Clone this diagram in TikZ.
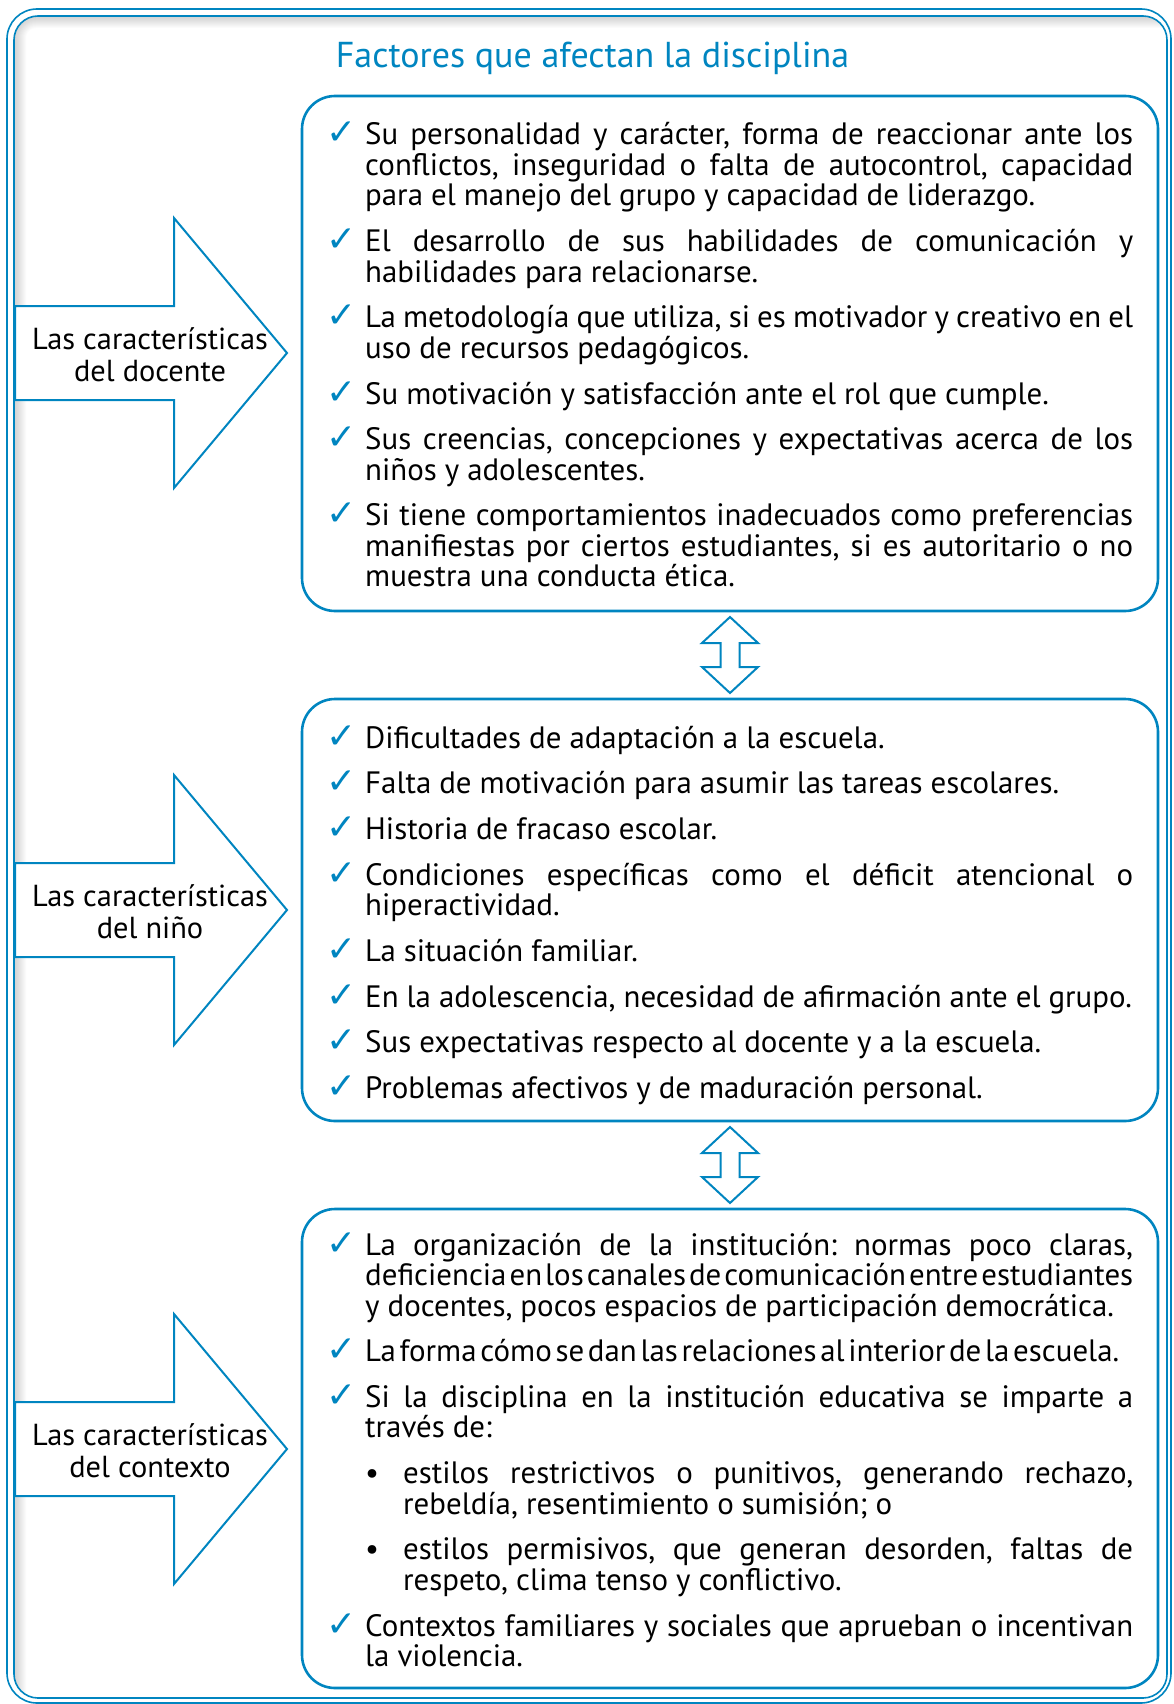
\documentclass[tikz,border=0pt]{standalone}
\usepackage{fontspec}
\setmainfont{PT Sans}
\newfontfamily\symbolfont{DejaVu Sans}
\usetikzlibrary{calc}

\definecolor{frameblue}{RGB}{0,133,192}

\newcommand{\bodyfont}{\fontsize{30.9}{30.5}\selectfont\frenchspacing\spaceskip = 0.26em plus 0.6em minus 0.12em}
\newcommand{\labelfont}{\fontsize{30.4}{32.3}\selectfont}
\newcommand{\titlefont}{\fontsize{36}{40}\selectfont}

% one item with a tick, one item with a dot, and the space between items
\newcommand{\chk}{\leavevmode\hangindent = 39pt\hangafter = 0\llap{\makebox[39pt][l]{\textcolor{frameblue}{\symbolfont\fontsize{36}{36}\selectfont ✓}}}}
\newcommand{\bul}{\leavevmode\hangindent = 77pt\hangafter = 0\llap{\makebox[38pt][l]{\textbullet}}}
\newcommand{\gap}{\par\vskip 15.2pt}
\newcommand{\tight}[1]{{\spaceskip = 0.08em plus 0.3em minus 0.05em #1}}
\newcommand{\squeeze}[2]{\makebox[#1][s]{\spaceskip = 0.12em plus 1em #2}}

\begin{document}
\begin{tikzpicture}[x = 1pt, y = -1pt,
	panel/.style = {draw = frameblue, line width = 2.6pt, rounded corners = 33pt, minimum width = 856pt},
	itemtext/.style = {anchor = base west, inner sep = 0pt, text width = 807pt, align = justify, font = \bodyfont},
	blockarrow/.style = {draw = frameblue, line width = 2pt, line join = miter, fill = white},
	arrowtext/.style = {align = center, inner sep = 0pt, font = \labelfont}]

	\useasboundingbox (0, 0) rectangle (1173, 1704);

	% Outer frame with its shadow

	\begin{scope}
		\clip [rounded corners = 24pt] (14, 16) rectangle (1167, 1698);
		\foreach \k in {1, ..., 14}
			\draw [black, opacity = 0.014, line width = 2 * \k pt, rounded corners = 24pt] (12, 14) rectangle (1200, 1730);
	\end{scope}
	\draw [frameblue, line width = 1.6pt, rounded corners = 30pt] (7, 9) rectangle (1171, 1703);
	\draw [frameblue, line width = 1.6pt, rounded corners = 24pt] (14, 16) rectangle (1167, 1698);

	% Title

	\node [anchor = base, text = frameblue, font = \titlefont] (title) at (592.5, 68) {Factores que afectan la disciplina};

	% Boxes

	\node [panel, minimum height = 515pt] (docente) at (730, 353.5) {};
	\node [panel, minimum height = 422pt] (nino) at (730, 910) {};
	\node [panel, minimum height = 479pt] (contexto) at (730, 1448.5) {};

	% Block arrows on the left

	\foreach \name/\yc/\who in {docente/353/del docente, nino/910/del niño, contexto/1449/del contexto}
	{
		\draw [blockarrow] (15, \yc - 47) -- (174, \yc - 47) -- (174, \yc - 135) -- (287, \yc)
			-- (174, \yc + 135) -- (174, \yc + 47) -- (15, \yc + 47) -- cycle;
		\node [arrowtext] (\name label) at (150, \yc + 2) {Las características\\\who};
	}

	% Double arrows between the boxes

	\foreach \upper/\lower in {docente/nino, nino/contexto}
		\draw [blockarrow, shift = {($(\upper.south)!0.5!(\lower.north)$)}] (0, -38) -- (28, -12) -- (9.5, -12)
			-- (9.5, 12) -- (28, 12) -- (0, 38) -- (-28, 12) -- (-9.5, 12) -- (-9.5, -12) -- (-28, -12) -- cycle;

	% Texts

	\node [itemtext] (docente list) at (326, 145) {%
		\chk Su personalidad y carácter, forma de reaccionar ante los\linebreak conflictos, inseguridad o falta de autocontrol, capacidad\linebreak para el manejo del grupo y capacidad de liderazgo.\gap
		\chk El desarrollo de sus habilidades de comunicación y\linebreak habilidades para relacionarse.\gap
		\chk La metodología que utiliza, si es motivador y creativo en el\linebreak uso de recursos pedagógicos.\gap
		\chk Su motivación y satisfacción ante el rol que cumple.\gap
		\chk Sus creencias, concepciones y expectativas acerca de los\linebreak niños y adolescentes.\gap
		\chk Si tiene comportamientos inadecuados como preferencias\linebreak manifiestas por ciertos estudiantes, si es autoritario o no\linebreak muestra una conducta ética.\par};

	\node [itemtext] (nino list) at (326, 748) {%
		\chk Dificultades de adaptación a la escuela.\gap
		\chk Falta de motivación para asumir las tareas escolares.\gap
		\chk Historia de fracaso escolar.\gap
		\chk Condiciones específicas como el déficit atencional o\linebreak hiperactividad.\gap
		\chk La situación familiar.\gap
		\chk En la adolescencia, necesidad de afirmación ante el grupo.\gap
		\chk Sus expectativas respecto al docente y a la escuela.\gap
		\chk Problemas afectivos y de maduración personal.\par};

	\node [itemtext] (contexto list) at (326, 1255) {%
		\chk La organización de la institución: normas poco claras,\linebreak \tight{deficiencia en los canales de comunicación entre estudiantes}\linebreak y docentes, pocos espacios de participación democrática.\gap
		\chk \squeeze{754pt}{La forma cómo se dan las relaciones al interior de la escuela.}\gap
		\chk Si la disciplina en la institución educativa se imparte a\linebreak través de:\gap
		\bul estilos restrictivos o punitivos, generando rechazo,\linebreak rebeldía, resentimiento o sumisión; o\gap
		\bul estilos permisivos, que generan desorden, faltas de\linebreak respeto, clima tenso y conflictivo.\gap
		\chk Contextos familiares y sociales que aprueban o incentivan\linebreak la violencia.\par};

\end{tikzpicture}
\end{document}
